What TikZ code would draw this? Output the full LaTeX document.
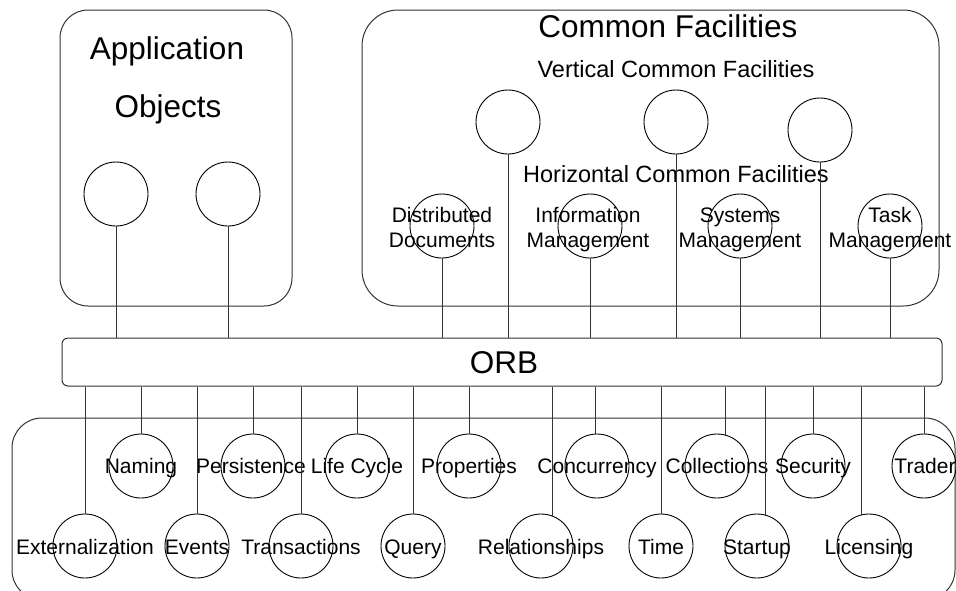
\documentclass[tikz,border=0pt]{standalone}
\usepackage{fontspec}
\setmainfont{Liberation Sans}
\begin{document}
\begin{tikzpicture}[x=1pt,y=-1pt,
  ln/.style={draw=black!80,line width=1pt},
  obj/.style={circle,draw=black,line width=0.9pt,minimum size=64pt,inner sep=0pt},
  lbl/.style={anchor=base,inner sep=0pt,font=\fontsize{21}{25}\selectfont,align=center},
  mid/.style={anchor=base,inner sep=0pt,font=\fontsize{23.5}{28}\selectfont},
  big/.style={anchor=base,inner sep=0pt,font=\fontsize{31.5}{36}\selectfont}]
\clip (0,0) rectangle (956,590);
\useasboundingbox (0,0) rectangle (956,590);
% frames
\draw[ln,rounded corners=28pt] (60,10) rectangle (292,306);
\draw[ln,rounded corners=36pt] (362,10) rectangle (939,306);
\draw[ln,rounded corners=30pt] (12,418) rectangle (955,600);
\node[draw=black!80,line width=1pt,rounded corners=6pt,minimum width=880pt,minimum height=48pt,inner sep=0pt] (orb) at (502,362) {};
\node[big] (orbt) at (504,373) {ORB};
% titles
\node[big] (appt1) at (167,59) {Application};
\node[big] (appt2) at (168,117) {Objects};
\node[big] (cft) at (668,37) {Common Facilities};
\node[mid] (vcf) at (676,77) {Vertical Common Facilities};
\node[mid] (hcf) at (676,182) {Horizontal Common Facilities};
% application objects
\node[obj] (a1) at (116,194) {};
\node[obj] (a2) at (228,194) {};
% vertical facilities
\node[obj] (v1) at (508,122) {};
\node[obj] (v2) at (676,122) {};
\node[obj] (v3) at (820,130) {};
% horizontal facilities
\node[obj] (h1) at (442,226) {};
\node[obj] (h2) at (590,226) {};
\node[obj] (h3) at (740,226) {};
\node[obj] (h4) at (890,226) {};
\node[lbl] (h1t) at (442,247) {Distributed\\Documents};
\node[lbl] (h2t) at (588,247) {Information\\Management};
\node[lbl] (h3t) at (740,247) {Systems\\Management};
\node[lbl] (h4t) at (890,247) {Task\\Management};
% row 1 services
\node[obj] (naming) at (141,466) {};
\node[obj] (pers) at (253,466) {};
\node[obj] (life) at (357,466) {};
\node[obj] (prop) at (469,466) {};
\node[obj] (conc) at (597,466) {};
\node[obj] (coll) at (717,466) {};
\node[obj] (sec) at (813,466) {};
\node[obj] (trad) at (924,466) {};
\node[lbl] at (141,473) {Naming};
\node[lbl] at (251,473) {Persistence};
\node[lbl] at (357,473) {Life Cycle};
\node[lbl] at (469,473) {Properties};
\node[lbl] at (597,473) {Concurrency};
\node[lbl] at (717,473) {Collections};
\node[lbl] at (813,473) {Security};
\node[lbl] at (925,473) {Trader};
% row 2 services
\node[obj] (ext) at (85,546) {};
\node[obj] (evt) at (197,546) {};
\node[obj] (trans) at (301,546) {};
\node[obj] (query) at (413,546) {};
\node[obj] (rel) at (541,546) {};
\node[obj] (time) at (661,546) {};
\node[obj] (start) at (757,546) {};
\node[obj] (lic) at (869,546) {};
\node[lbl] at (85,554) {Externalization};
\node[lbl] at (197,554) {Events};
\node[lbl] at (301,554) {Transactions};
\node[lbl] at (413,554) {Query};
\node[lbl] at (541,554) {Relationships};
\node[lbl] at (661,554) {Time};
\node[lbl] at (757,554) {Startup};
\node[lbl] at (869,554) {Licensing};
% connectors above ORB
\foreach \n in {a1,a2,v1,v2,v3,h1,h2,h3,h4}
  \draw[ln] (\n.south) -- (\n.south |- orb.north);
% connectors below ORB
\foreach \n in {naming,pers,life,prop,sec,trad,ext,evt,trans,query,time}
  \draw[ln] (\n.north |- orb.south) -- (\n.north);
\draw[ln] (orb.south -| 595,0) -- (595,434);
\draw[ln] (orb.south -| 725,0) -- (725,435);
\draw[ln] (orb.south -| 552,0) -- (552,516);
\draw[ln] (orb.south -| 765,0) -- (765,515);
\draw[ln] (orb.south -| 861,0) -- (861,515);
\end{tikzpicture}
\end{document}
